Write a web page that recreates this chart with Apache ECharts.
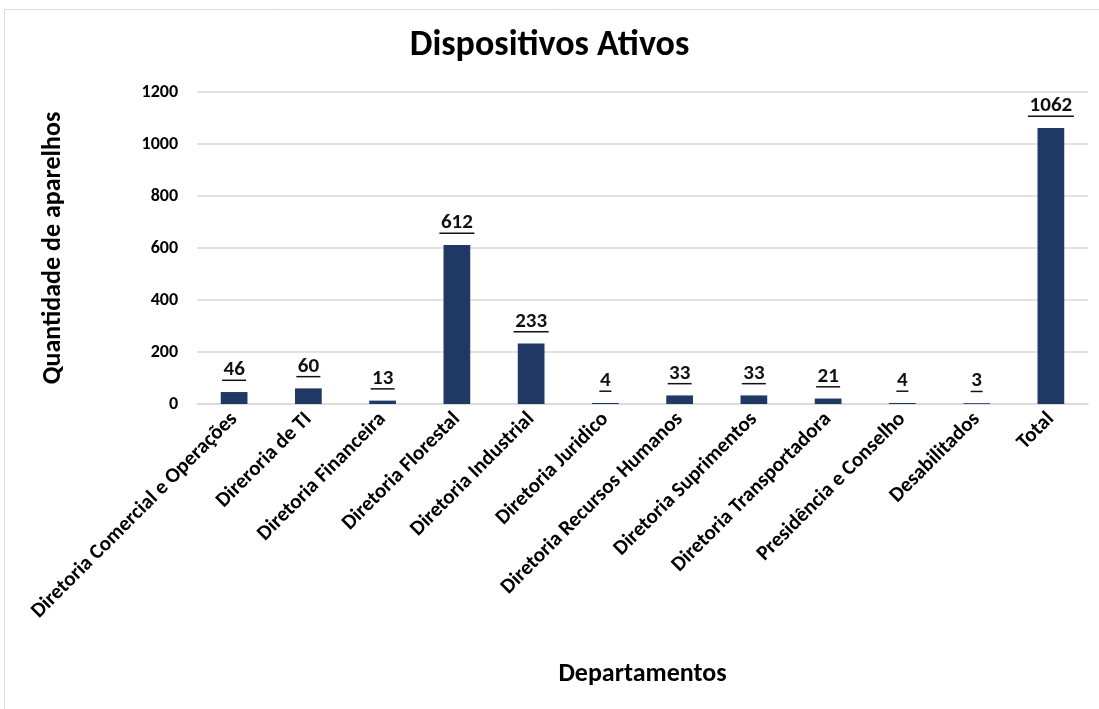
<!DOCTYPE html>
<html><head><meta charset="utf-8">
<script src="https://cdn.jsdelivr.net/npm/echarts@6/dist/echarts.min.js"></script>
<style>html,body{margin:0;padding:0;background:#fff;}#c{width:1099px;height:709px;}</style>
</head><body><div id="c"></div>
<script>
const categories = ["Diretoria Comercial e Operações","Direroria de TI","Diretoria Financeira","Diretoria Florestal","Diretoria Industrial","Diretoria Juridico","Diretoria Recursos Humanos","Diretoria Suprimentos","Diretoria Transportadora","Presidência e Conselho","Desabilitados","Total"];
const values = [46,60,13,612,233,4,33,33,21,4,3,1062];
const yTicks = [0,200,400,600,800,1000,1200];

const FONT = "Carlito, Lato, 'Noto Sans', sans-serif";
const chart = echarts.init(document.getElementById('c'));
chart.setOption({
  animation:false,
  textStyle:{fontFamily:FONT},
  title:{text:'Dispositivos Ativos',left:'center',top:23,textStyle:{fontFamily:FONT,fontSize:36,fontWeight:'bold',color:'#000'}},
  graphic:[{type:'rect',shape:{x:4.5,y:9.5,width:1200,height:800},style:{fill:'none',stroke:'#d9d9d9',lineWidth:1},silent:true}],
  grid:{left:197,right:11,top:92,bottom:305},
  xAxis:{type:'category',data:categories,
    name:'Departamentos',nameLocation:'middle',nameGap:257,
    nameTextStyle:{fontFamily:FONT,fontSize:26,fontWeight:'bold',color:'#000'},
    axisLine:{lineStyle:{color:'#d9d9d9',width:1.5}},axisTick:{show:false},
    axisLabel:{rotate:45,interval:0,margin:12,fontFamily:FONT,fontSize:21,fontWeight:'bold',color:'#000'}},
  yAxis:{type:'value',min:0,max:1200,interval:200,
    name:'Quantidade de aparelhos',nameLocation:'middle',nameGap:131,
    nameTextStyle:{fontFamily:FONT,fontSize:26,fontWeight:'bold',color:'#000'},
    axisLine:{show:false},axisTick:{show:false},
    splitLine:{lineStyle:{color:'#d9d9d9',width:1.5}},
    axisLabel:{margin:19,fontFamily:FONT,fontSize:18,fontWeight:'bold',color:'#000',
      formatter:v=>yTicks.includes(v)?String(v):''}},
  series:[{type:'bar',data:values,barWidth:'36%',
    itemStyle:{color:'#203864'},
    label:{show:true,position:'top',distance:11,
      formatter:p=>'{v|'+p.value+'}\n{u'+String(p.value).length+'|}',
      rich:{
        v:{fontFamily:FONT,fontSize:21,fontWeight:'bold',color:'#111',align:'center',lineHeight:19},
        u1:{width:12,height:1.5,backgroundColor:'#111',align:'center'},
        u2:{width:24,height:1.5,backgroundColor:'#111',align:'center'},
        u3:{width:35,height:1.5,backgroundColor:'#111',align:'center'},
        u4:{width:46,height:1.5,backgroundColor:'#111',align:'center'}
      }}}]
});
</script></body></html>
